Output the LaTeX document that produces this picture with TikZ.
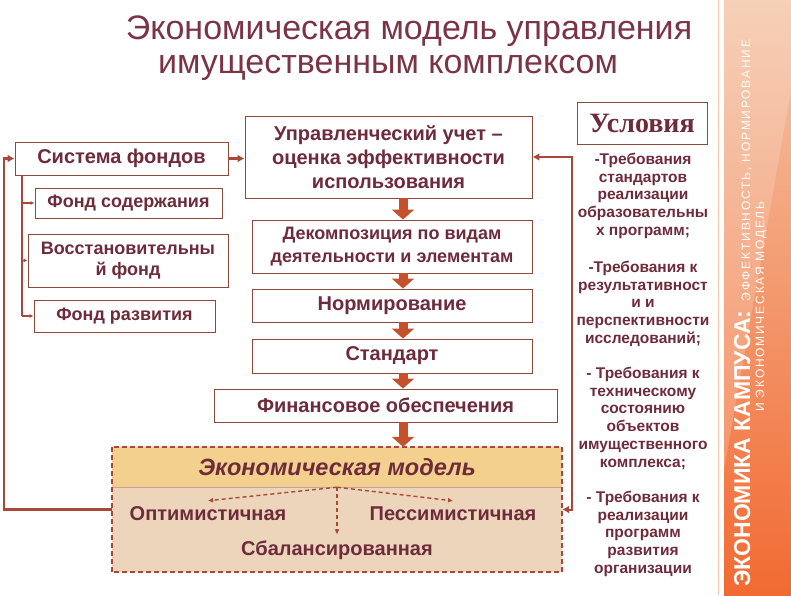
\documentclass[tikz,border=0pt]{standalone}
\usepackage{fontspec}
\setmainfont{Liberation Sans}
\newfontfamily\condfont{Liberation Serif}
\newfontfamily\bandfont[LetterSpace=15]{Liberation Sans}
\usetikzlibrary{arrows.meta}
\definecolor{txt}{HTML}{6D2B3B}
\definecolor{ttl}{HTML}{7B3446}
\definecolor{frame}{HTML}{8B4A3C}
\definecolor{rust}{HTML}{C4502C}
\definecolor{loopc}{HTML}{A9473A}
\definecolor{gold}{HTML}{F3D08E}
\definecolor{tan}{HTML}{EDD5BC}
\definecolor{bandtop}{HTML}{F5C6A8}
\definecolor{bandbot}{HTML}{F26A32}

\begin{document}
\begin{tikzpicture}[x=1pt,y=-1pt,
  box/.style={draw=frame,fill=white,line width=0.9pt,text=txt,align=center,inner sep=0pt,font=\bfseries\fontsize{20}{24}\selectfont},
  fund/.style={box,font=\bfseries\fontsize{18}{21}\selectfont},
  req/.style={text=txt,align=center,anchor=north,inner sep=0pt,font=\bfseries\fontsize{15.5}{17.7}\selectfont},
  variant/.style={text=txt,inner sep=2pt,font=\bfseries\fontsize{20}{22}\selectfont},
  big arrow/.style={rust,line width=9pt,-{Triangle[width=22pt,length=10pt]}},
  link/.style={loopc,line width=2.5pt,-{Latex[length=7pt,width=8pt]}},
  small link/.style={loopc,line width=1.2pt,-{Latex[length=4pt,width=4pt]}},
  dash link/.style={loopc,line width=1.4pt,dash pattern=on 4pt off 3pt,-{Latex[length=5pt,width=5pt]}}]

  \useasboundingbox (0,0) rectangle (791,595);

  % side band
  \shade[top color=bandtop,bottom color=bandbot] (724,0) rectangle (791,595);
  \fill[white,opacity=0.18] (724,0) -- (791,0) -- (791,90) -- (724,470) -- cycle;
  \draw[bandtop,line width=1pt] (718,0) -- (718,595);
  \node[rotate=90,anchor=base west,text=white,inner sep=0pt] (bandA) at (750,587)
    {\bfseries\fontsize{23}{25}\selectfont ЭКОНОМИКА КАМПУСА:\,\mdseries\bandfont\fontsize{12}{14}\selectfont{} ЭФФЕКТИВНОСТЬ, НОРМИРОВАНИЕ};
  \node[rotate=90,anchor=base west,text=white,inner sep=0pt,font=\bandfont\fontsize{12}{14}\selectfont] (bandB) at (764,412) {И ЭКОНОМИЧЕСКАЯ МОДЕЛЬ};

  \node[text=ttl,font=\fontsize{34}{38}\selectfont] (t1) at (409,31) {Экономическая модель управления};
  \node[text=ttl,font=\fontsize{34}{38}\selectfont] (t2) at (388,68) {имущественным комплексом};

  % funds
  \node[box,minimum width=213pt,minimum height=33pt] (sf) at (121.5,158.5) {Система фондов};
  \node[fund,minimum width=187pt,minimum height=30pt] (f1) at (128.5,203) {Фонд содержания};
  \node[fund,minimum width=200pt,minimum height=53pt] (f2) at (128,260.5) {Восстановительны\\й фонд};
  \node[fund,minimum width=181pt,minimum height=32pt] (f3) at (124.5,316) {Фонд развития};

  % main chain
  \node[box,minimum width=287pt,minimum height=82pt] (uu) at (388.5,157) {Управленческий учет –\\оценка эффективности\\использования};
  \node[box,minimum width=280pt,minimum height=53pt,font=\bfseries\fontsize{18}{23}\selectfont] (dk) at (392,246.5) {Декомпозиция по видам\\деятельности и элементам};
  \node[box,minimum width=280pt,minimum height=33pt] (nr) at (392,305.5) {Нормирование};
  \node[box,minimum width=280pt,minimum height=34pt] (st) at (392,356) {Стандарт};
  \node[box,minimum width=343pt,minimum height=33pt] (fo) at (385.5,405.5) {Финансовое обеспечения};

  % model
  \node[minimum width=450pt,minimum height=125pt,fill=tan,inner sep=0pt] (mdl) at (337,509.5) {};
  \node[minimum width=450pt,minimum height=40pt,fill=gold,inner sep=0pt,anchor=north,text=txt,
    font=\bfseries\itshape\fontsize{23.5}{26}\selectfont] (mh) at (mdl.north) {Экономическая модель};
  \draw[frame!50,line width=0.6pt] (mh.south west) -- (mh.south east);
  \draw[loopc,line width=2pt,dash pattern=on 5pt off 3pt] (mdl.south west) rectangle (mdl.north east);
  \node[variant] (opt) at (208,514) {Оптимистичная};
  \node[variant] (pes) at (453,514) {Пессимистичная};
  \node[variant] (sb) at (337,550) {Сбалансированная};
  \draw[dash link] (mh.south) -- ([yshift=4pt]opt.north);
  \draw[dash link] (mh.south) -- ([yshift=4pt]pes.north);
  \draw[dash link] (mh.south) -- ([yshift=4pt]sb.north);

  % conditions
  \node[draw=frame,line width=0.9pt,fill=white,minimum width=130pt,minimum height=42pt,inner sep=0pt,text=txt,
    font=\condfont\bfseries\fontsize{28}{30}\selectfont] (usl) at (642,123) {Условия};
  \node[req] (r1) at (643,153) {-Требования\\стандартов\\реализации\\образовательны\\х программ;};
  \node[req] (r2) at (643,261) {-Требования к\\результативност\\и и\\перспективности\\исследований;};
  \node[req] (r3) at (643,367) {- Требования к\\техническому\\состоянию\\объектов\\имущественного\\комплекса;};
  \node[req] (r4) at (643,491) {- Требования к\\реализации\\программ\\развития\\организации};

  % connectors
  \coordinate (ax) at (403,0);
  \coordinate (lx) at (22,0);
  \coordinate (ox) at (4,0);
  \coordinate (rx) at (572,0);
  \foreach \a/\b in {uu/dk,dk/nr,nr/st,st/fo,fo/mh}
    \draw[big arrow] (ax |- \a.south) -- (ax |- \b.north);
  \draw[loopc,line width=1.2pt] (lx |- sf.south) -- (lx |- f3.west);
  \foreach \f in {f1,f2,f3}
    \draw[small link] (lx |- \f.west) -- (\f.west);
  \draw[link] (sf.east) -- (sf.east -| uu.west);
  \draw[link] (mdl.west) -- (ox |- mdl.west) -- (ox |- sf.west) -- (sf.west);
  \draw[link,line width=2pt,{Latex[length=7pt,width=8pt]}-{Latex[length=7pt,width=8pt]}]
    (uu.east) -- (rx |- uu.east) -- (rx |- mdl.east) -- (mdl.east);
\end{tikzpicture}
\end{document}
